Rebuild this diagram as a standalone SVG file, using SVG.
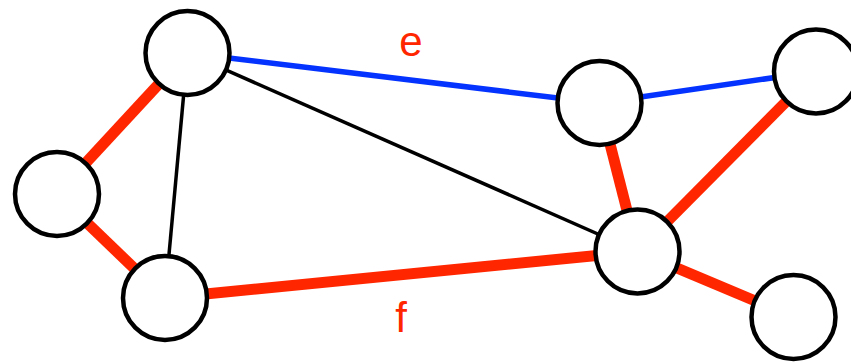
<svg xmlns="http://www.w3.org/2000/svg" width="851" height="362" viewBox="0 0 851 362">
<style>
.n{fill:#fff;stroke:#000;stroke-width:4.5}
.r{stroke:#ff2600;stroke-width:11}
.b{stroke:#0433ff;stroke-width:5.5}
.k{stroke:#000;stroke-width:3.5}
.t{font-family:"Liberation Sans",Arial,sans-serif;font-size:42px;fill:#ff2600;text-anchor:middle}
</style>
<rect width="851" height="362" fill="#fff"/>
<g id="connectors">
<line class="b" x1="187.5" y1="53" x2="599.5" y2="103"/>
<line class="b" x1="599.5" y1="103" x2="816" y2="71.5"/>
<line class="k" x1="187.5" y1="53" x2="637.5" y2="251.5"/>
<line class="k" x1="187.5" y1="53" x2="165" y2="298"/>
<line class="r" x1="187.5" y1="53" x2="57" y2="194"/>
<line class="r" x1="57" y1="194" x2="165" y2="298"/>
<line class="r" x1="165" y1="298" x2="637.5" y2="251.5"/>
<line class="r" x1="599.5" y1="103" x2="637.5" y2="251.5"/>
<line class="r" x1="816" y1="71.5" x2="637.5" y2="251.5"/>
<line class="r" x1="637.5" y1="251.5" x2="793.5" y2="317"/>
<text class="t" x="411" y="56">e</text>
<text class="t" x="401" y="332">f</text>
</g>
<g id="nA"><circle class="n" cx="187.5" cy="53" r="42"/></g>
<g id="nB"><circle class="n" cx="57" cy="194" r="42"/></g>
<g id="nC"><circle class="n" cx="165" cy="298" r="42"/></g>
<g id="nD"><circle class="n" cx="599.5" cy="103" r="42"/></g>
<g id="nE"><circle class="n" cx="816" cy="71.5" r="42"/></g>
<g id="nF"><circle class="n" cx="637.5" cy="251.5" r="42"/></g>
<g id="nG"><circle class="n" cx="793.5" cy="317" r="42"/></g>
</svg>
